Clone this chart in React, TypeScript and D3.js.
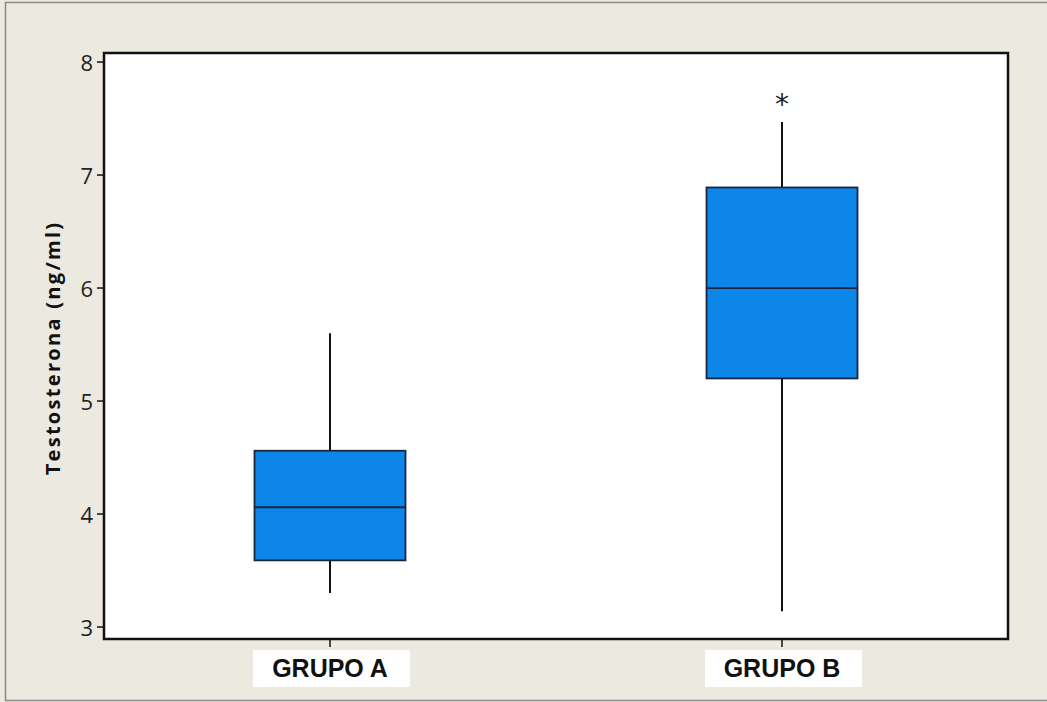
import React from "react";
import * as d3 from "d3";

const groups = ["GRUPO A", "GRUPO B"];
const whiskerLow = [3.3, 3.14];
const q1 = [3.59, 5.2];
const median = [4.06, 6.0];
const q3 = [4.56, 6.89];
const whiskerHigh = [5.6, 7.47];
const outliers = [[], [7.64]];
const yTicks = [3, 4, 5, 6, 7, 8];

const W = 1047, H = 702;
const plot = { left: 104, top: 53, right: 1008, bottom: 639 };

export default function App() {
  const y = d3.scaleLinear().domain([2.894, 8.08]).range([plot.bottom, plot.top]);
  const x = d3.scalePoint<string>().domain(groups).range([plot.left, plot.right]).padding(0.5);
  const boxW = 151;
  const ink = "#1b2540";
  return (
    <svg width={W} height={H} style={{ position: "absolute", left: 0, top: 0 }}>
      <rect x={0} y={0} width={W} height={H} fill="#ece9e1" />
      <path d={`M${W},2.5 H5.5 V${H - 1.5} H${W}`} fill="none" stroke="#8a8a8a" strokeWidth={1.5} />
      <rect x={plot.left} y={plot.top} width={plot.right - plot.left} height={plot.bottom - plot.top} fill="#fff" stroke="#111" strokeWidth={2.5} />
      {yTicks.map((t) => (
        <g key={t}>
          <line x1={plot.left - 7} x2={plot.left} y1={y(t)} y2={y(t)} stroke="#111" strokeWidth={1.5} />
          <text x={plot.left - 11} y={y(t)} textAnchor="end" dominantBaseline="central" fontFamily="'Open Sans', 'DejaVu Sans', sans-serif" fontSize={22} fill="#222">{t}</text>
        </g>
      ))}
      <text transform={`translate(52,348) rotate(-90)`} textAnchor="middle" dominantBaseline="central" fontFamily="'Open Sans', 'DejaVu Sans', sans-serif" fontWeight="bold" fontSize={20} letterSpacing={2.3} fill="#111">Testosterona (ng/ml)</text>
      {groups.map((g, i) => {
        const cx = x(g)!;
        return (
          <g key={g}>
            <line x1={cx} x2={cx} y1={plot.bottom} y2={plot.bottom + 8} stroke="#111" strokeWidth={1.5} />
            <rect x={cx - 77} y={650} width={157} height={37} fill="#fff" />
            <text x={cx} y={677} textAnchor="middle" fontFamily="'Liberation Sans', Arial, sans-serif" fontWeight="bold" fontSize={25} fill="#111">{g}</text>
            <line x1={cx} x2={cx} y1={y(whiskerLow[i])} y2={y(q1[i])} stroke="#111" strokeWidth={2} />
            <line x1={cx} x2={cx} y1={y(q3[i])} y2={y(whiskerHigh[i])} stroke="#111" strokeWidth={2} />
            <rect x={cx - boxW / 2} y={y(q3[i])} width={boxW} height={y(q1[i]) - y(q3[i])} fill="#0d86ea" stroke={ink} strokeWidth={1.8} />
            <line x1={cx - boxW / 2} x2={cx + boxW / 2} y1={y(median[i])} y2={y(median[i])} stroke={ink} strokeWidth={1.8} />
            {outliers[i].map((o, j) => (
              <text key={j} x={cx} y={y(o) + 11} textAnchor="middle" fontFamily="'DejaVu Sans', sans-serif" fontSize={28} fill="#222">*</text>
            ))}
          </g>
        );
      })}
    </svg>
  );
}
